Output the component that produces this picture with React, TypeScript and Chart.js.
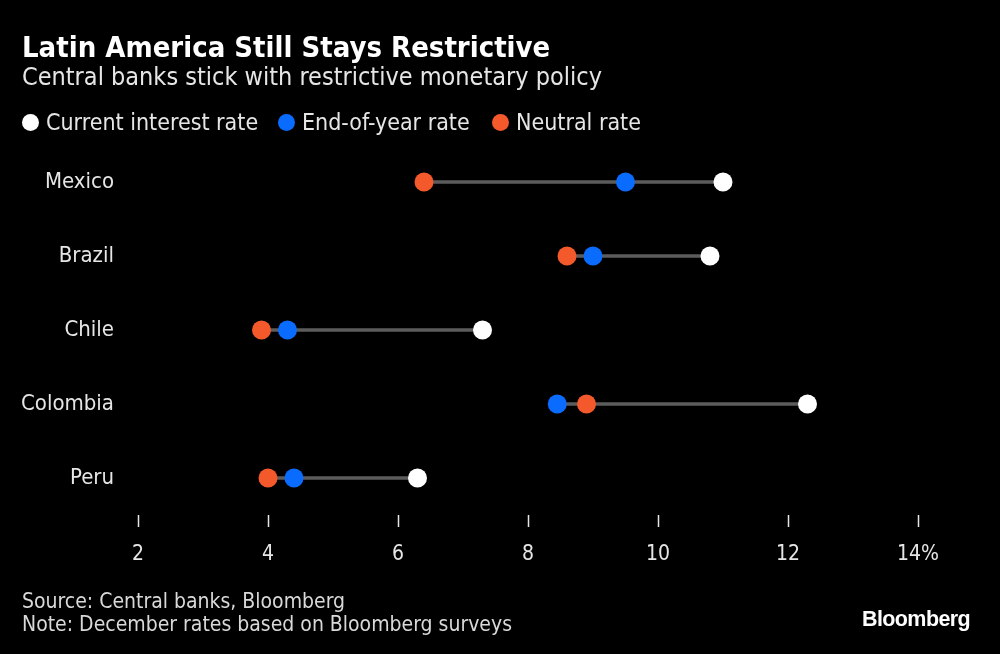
import React, { useEffect, useRef } from "react";
import { Chart, registerables } from "chart.js";

Chart.register(...registerables);

const countries = ["Mexico", "Brazil", "Chile", "Colombia", "Peru"];
const currentRate = [11.0, 10.8, 7.3, 12.3, 6.3];
const endOfYearRate = [9.5, 9.0, 4.3, 8.45, 4.4];
const neutralRate = [6.4, 8.6, 3.9, 8.9, 4.0];
const xTicks = [2, 4, 6, 8, 10, 12, 14];

const WHITE = "#ffffff";
const BLUE = "#0a6cff";
const ORANGE = "#f4592b";
const FONT = "'Liberation Sans Narrow', 'DejaVu Sans Condensed', 'Noto Sans', sans-serif";

export default function App() {
  const ref = useRef<HTMLCanvasElement | null>(null);

  useEffect(() => {
    document.body.style.margin = "0";
    document.body.style.background = "#000";
    const ctx = ref.current!.getContext("2d")!;
    const ranges = countries.map((_, i) => {
      const vals = [currentRate[i], endOfYearRate[i], neutralRate[i]];
      return [Math.min(...vals), Math.max(...vals)];
    });
    const pts = (arr: number[]) => arr.map((v, i) => ({ x: v, y: countries[i] }));
    const chart = new Chart(ctx, {
      type: "bar",
      data: {
        labels: countries,
        datasets: [
          {
            type: "line" as any,
            label: "Current interest rate",
            data: pts(currentRate) as any,
            showLine: false,
            pointRadius: 9.5,
            pointBackgroundColor: WHITE,
            pointBorderWidth: 0,
            order: 1,
            indexAxis: "y",
          } as any,
          {
            type: "line" as any,
            label: "End-of-year rate",
            data: pts(endOfYearRate) as any,
            showLine: false,
            pointRadius: 9.5,
            pointBackgroundColor: BLUE,
            pointBorderWidth: 0,
            order: 2,
            indexAxis: "y",
          } as any,
          {
            type: "line" as any,
            label: "Neutral rate",
            data: pts(neutralRate) as any,
            showLine: false,
            pointRadius: 9.5,
            pointBackgroundColor: ORANGE,
            pointBorderWidth: 0,
            order: 3,
            indexAxis: "y",
          } as any,
          {
            type: "bar",
            label: "range",
            data: ranges as any,
            backgroundColor: "#5c5c5c",
            barThickness: 3,
            borderSkipped: false,
            order: 4,
          } as any,
        ],
      },
      options: {
        indexAxis: "y",
        animation: false,
        responsive: false,
        maintainAspectRatio: false,
        layout: { padding: { top: 145, bottom: 79, left: 0, right: 82 } },
        plugins: { legend: { display: false }, tooltip: { enabled: false } },
        scales: {
          x: {
            type: "linear",
            min: 2,
            max: 14,
            afterBuildTicks: (scale: any) => {
              scale.ticks = xTicks.map((v) => ({ value: v }));
            },
            afterFit: (scale: any) => {
              scale.height = 60;
            },
            ticks: {
              color: "#e6e6e6",
              font: { family: FONT, size: 21 },
              padding: 15,
              callback: (v: any) => (v === 14 ? "14%" : String(v)),
            },
            grid: {
              drawOnChartArea: false,
              drawTicks: true,
              tickLength: 12,
              tickColor: "#e6e6e6",
              tickWidth: 1.5,
            },
            border: { display: false },
          },
          y: {
            type: "category",
            offset: true,
            afterFit: (scale: any) => {
              scale.width = 138;
            },
            ticks: {
              color: "#e6e6e6",
              font: { family: FONT, size: 22 },
              padding: 24,
            },
            grid: { display: false, drawTicks: false },
            border: { display: false },
          },
        },
      },
    });
    return () => chart.destroy();
  }, []);

  const legendItem = (color: string, text: string, left: number) => (
    <div style={{ position: "absolute", left, top: 108, display: "flex", alignItems: "center" }}>
      <span style={{ width: 17, height: 17, borderRadius: "50%", background: color, display: "inline-block", marginRight: 7 }} />
      <span style={{ fontSize: 23, color: "#e6e6e6", lineHeight: "28px" }}>{text}</span>
    </div>
  );

  return (
    <div style={{ position: "relative", width: 1000, height: 654, background: "#000", fontFamily: FONT, overflow: "hidden" }}>
      <canvas ref={ref} width={1000} height={654} style={{ position: "absolute", left: 0, top: 0 }} />
      <div style={{ position: "absolute", left: 22, top: 31, fontSize: 29, fontWeight: "bold", color: "#fff", lineHeight: "32px" }}>
        Latin America Still Stays Restrictive
      </div>
      <div style={{ position: "absolute", left: 22, top: 63, fontSize: 25, color: "#e6e6e6", lineHeight: "28px" }}>
        Central banks stick with restrictive monetary policy
      </div>
      {legendItem(WHITE, "Current interest rate", 22)}
      {legendItem(BLUE, "End-of-year rate", 278)}
      {legendItem(ORANGE, "Neutral rate", 492)}
      <div style={{ position: "absolute", left: 22, top: 590, fontSize: 21, color: "#d9d9d9", lineHeight: "23px" }}>
        Source: Central banks, Bloomberg
        <br />
        Note: December rates based on Bloomberg surveys
      </div>
      <div style={{ position: "absolute", left: 862, top: 607, fontSize: 21.5, fontWeight: "bold", color: "#fff", fontFamily: "'Liberation Sans', Arial, sans-serif", letterSpacing: -0.6 }}>
        Bloomberg
      </div>
    </div>
  );
}
